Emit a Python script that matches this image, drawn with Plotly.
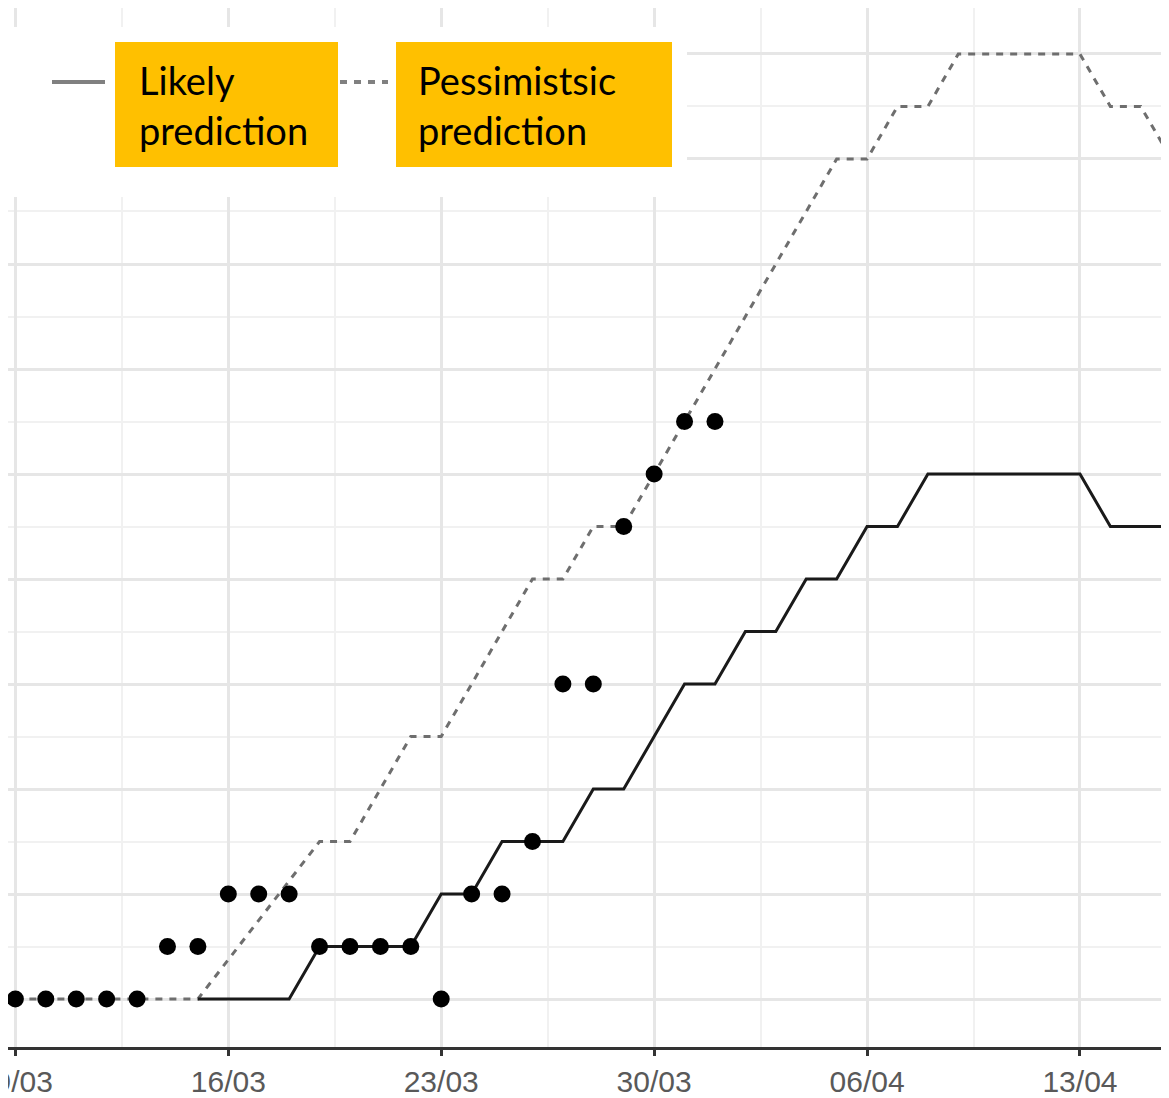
import pandas as pd
import plotly.graph_objects as go

# daily counts
obs_start = "2020-03-09"
observed = [0, 0, 0, 0, 0, 1, 1, 2, 2, 2, 1, 1, 1, 1, 0, 2, 2, 3, 6, 6, 9, 10, 11, 11]

likely_start = "2020-03-15"
likely = [0, 0, 0, 0, 1, 1, 1, 1, 2, 2, 3, 3, 3, 4, 4, 5, 6, 6, 7, 7, 8, 8, 9, 9,
          10, 10, 10, 10, 10, 10, 9, 9, 9]

pess_start = "2020-03-09"
pessimistic = [0, 0, 0, 0, 0, 0, 0, 0.75, 1.5, 2.25, 3, 3, 4, 5, 5, 6, 7, 8, 8, 9, 9,
               10, 11, 12, 13, 14, 15, 16, 16, 17, 17, 18, 18, 18, 18, 18, 17, 17, 16]

obs_dates = pd.date_range(obs_start, periods=len(observed), freq="D")
likely_dates = pd.date_range(likely_start, periods=len(likely), freq="D")
pess_dates = pd.date_range(pess_start, periods=len(pessimistic), freq="D")

# the page body adds an 8px offset, so the figure is 8px smaller than the window
OFF = 8
W, H = 1169 - OFF, 1098 - OFF
PLOT_H = 1047 - OFF


def px_x(p):
    return (p - OFF) / W


def px_y(p):
    return (PLOT_H - (p - OFF)) / PLOT_H


fig = go.Figure()
fig.add_trace(go.Scatter(x=pess_dates, y=pessimistic, mode="lines",
                         line=dict(color="#6e6e6e", width=3, dash="7px,7px"),
                         showlegend=False))
fig.add_trace(go.Scatter(x=likely_dates, y=likely, mode="lines",
                         line=dict(color="#1a1a1a", width=3),
                         showlegend=False))
fig.add_trace(go.Scatter(x=obs_dates, y=observed, mode="markers",
                         marker=dict(color="black", size=17),
                         showlegend=False))

# pasted-in legend block
shapes = [
    dict(type="rect", xref="paper", yref="paper", layer="above",
         x0=px_x(0), x1=px_x(687), y0=px_y(197), y1=px_y(27),
         fillcolor="white", line=dict(width=0)),
    dict(type="line", xref="paper", yref="paper", layer="above",
         x0=px_x(52), x1=px_x(105), y0=px_y(82), y1=px_y(82),
         line=dict(color="#808080", width=4)),
    dict(type="line", xref="paper", yref="paper", layer="above",
         x0=px_x(340), x1=px_x(388), y0=px_y(82), y1=px_y(82),
         line=dict(color="#808080", width=4, dash="7px,7px")),
    dict(type="rect", xref="paper", yref="paper", layer="above",
         x0=px_x(115), x1=px_x(338), y0=px_y(167), y1=px_y(42),
         fillcolor="#FFC000", line=dict(width=0)),
    dict(type="rect", xref="paper", yref="paper", layer="above",
         x0=px_x(396), x1=px_x(672), y0=px_y(167), y1=px_y(42),
         fillcolor="#FFC000", line=dict(width=0)),
]

annotations = []
for txt, x, y in [("Likely", 137, 80), ("prediction", 137, 130),
                  ("Pessimistsic", 416, 80), ("prediction", 416, 130)]:
    annotations.append(dict(text=txt, xref="paper", yref="paper",
                            x=px_x(x), y=px_y(y), xanchor="left", yanchor="middle",
                            showarrow=False,
                            font=dict(family="Lato", size=38, color="black")))

fig.update_layout(
    width=W, height=H,
    margin=dict(l=0, r=0, t=0, b=H - PLOT_H, pad=0),
    plot_bgcolor="white", paper_bgcolor="white",
    shapes=shapes, annotations=annotations,
    xaxis=dict(
        type="date",
        automargin=False,
        range=["2020-03-08 18:10", "2020-04-15 22:15"],
        tick0="2020-03-09", dtick=7 * 86400000,
        tickformat="%d/%m",
        ticklabeloverflow="allow",
        tickfont=dict(family="Liberation Sans", size=30, color="#595959"),
        showgrid=True, gridcolor="#e6e6e6", gridwidth=2.5,
        minor=dict(tick0="2020-03-09", dtick=3.5 * 86400000, showgrid=True,
                   gridcolor="#f1f1f1", gridwidth=1.5),
        showline=True, linecolor="#333333", linewidth=3,
        ticks="outside", ticklen=6, tickwidth=3, tickcolor="#333333",
        zeroline=False,
    ),
    yaxis=dict(
        automargin=False,
        range=[-0.914, 18.876],
        tick0=0, dtick=2,
        showticklabels=False,
        showgrid=True, gridcolor="#e6e6e6", gridwidth=2.5,
        minor=dict(dtick=1, showgrid=True, gridcolor="#f1f1f1", gridwidth=1.5),
        zeroline=False,
    ),
)

fig.write_html("out.html")
